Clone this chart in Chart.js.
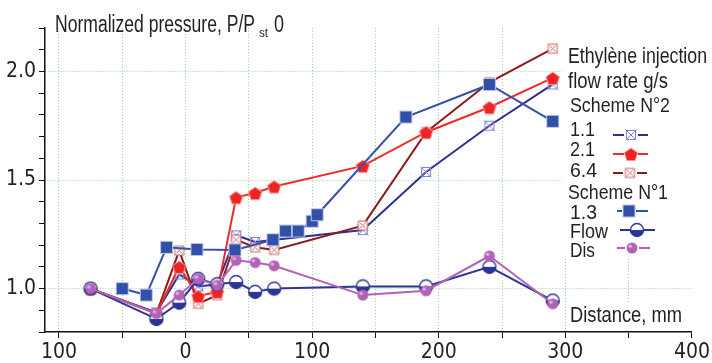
<!DOCTYPE html>
<html>
<head>
<meta charset="utf-8">
<script src="https://cdn.jsdelivr.net/npm/chart.js@4.4.0/dist/chart.umd.min.js"></script>
<style>
body { margin: 0; background: #fff; }
canvas { display: block; }
</style>
</head>
<body>
<canvas id="pressureChart" width="712" height="363"></canvas>
<script>
// distance along the duct, mm
var xScheme2 = [-75, -23, -5, 10, 25, 40, 55, 70, 140, 190, 240, 290];
var xScheme1 = [-50, -31, -15, 9, 39, 69, 79, 89, 100, 104, 174, 240, 290];
var xFlowDis = [-75, -23, -5, 10, 25, 40, 55, 70, 140, 190, 240, 290];

// normalized pressure P/Pst0
var p11 = [1.00, 0.89, 1.065, 1.01, 1.02, 1.245, 1.215, null, 1.27, 1.537, 1.75, 1.94];
var p21 = [1.00, 0.885, 1.10, 0.965, 0.985, 1.42, 1.44, 1.47, 1.565, 1.72, 1.835, 1.97];
var p64 = [1.00, 0.885, 1.175, 0.93, 0.97, 1.225, 1.19, 1.178, 1.29, 1.72, 1.95, 2.105];
var p13 = [1.00, 0.97, 1.19, 1.18, 1.178, 1.225, 1.265, 1.265, 1.31, 1.34, 1.79, 1.94, 1.77];
var pFlow = [1.00, 0.86, 0.935, 1.045, 1.02, 1.03, 0.985, 1.00, 1.01, 1.01, 1.10, 0.945];
var pDis = [1.00, 0.885, 0.97, 1.045, 1.015, 1.13, 1.12, 1.105, 0.97, 0.99, 1.15, 0.93];

var xTicks = [-100, 0, 100, 200, 300, 400];
var yTicks = [1.0, 1.5, 2.0];

var FONT = '"Liberation Sans", Arial, sans-serif';
var TICKFONT = '"DejaVu Sans Condensed", "Liberation Sans", sans-serif';
var TXT = '#231f20';
var GRID = 'rgba(110,200,110,0.75)';

function pts(xs, ys) {
	var out = [];
	for (var i = 0; i < xs.length; i++) {
		if (ys[i] !== null) out.push({x: xs[i], y: ys[i]});
	}
	return out;
}

// marker images
function marker(size, draw) {
	var c = document.createElement('canvas');
	c.width = size; c.height = size;
	draw(c.getContext('2d'), size / 2);
	return c;
}
var mk11 = marker(14, function (g, m) {
	g.strokeStyle = '#8084d8'; g.lineWidth = 1;
	g.strokeRect(m - 4.5, m - 4.5, 9, 9);
	g.beginPath();
	g.moveTo(m - 5.5, m - 5.5); g.lineTo(m + 5.5, m + 5.5);
	g.moveTo(m + 5.5, m - 5.5); g.lineTo(m - 5.5, m + 5.5);
	g.stroke();
});
var mk21 = marker(18, function (g, m) {
	g.beginPath();
	for (var k = 0; k < 5; k++) {
		var a = -Math.PI / 2 + k * 2 * Math.PI / 5;
		var px = m + 7 * Math.cos(a), py = m + 1 + 7 * Math.sin(a);
		if (k === 0) g.moveTo(px, py); else g.lineTo(px, py);
	}
	g.closePath();
	g.fillStyle = '#ee2424'; g.fill();
	g.strokeStyle = '#f7a0a0'; g.lineWidth = 1; g.stroke();
});
var mk64 = marker(13, function (g, m) {
	g.fillStyle = '#fff';
	g.fillRect(m - 4.5, m - 4.5, 9, 9);
	g.strokeStyle = '#c46666'; g.lineWidth = 1;
	g.strokeRect(m - 4.5, m - 4.5, 9, 9);
	g.beginPath();
	g.moveTo(m - 3, m - 3); g.lineTo(m + 3, m + 3);
	g.moveTo(m + 3, m - 3); g.lineTo(m - 3, m + 3);
	g.stroke();
});
var mk13 = marker(15, function (g, m) {
	g.fillStyle = '#b9c3e8';
	g.fillRect(m - 6.5, m - 6.5, 13, 13);
	g.fillStyle = '#3350a8';
	g.fillRect(m - 5.5, m - 5.5, 11, 11);
});
var mkFlow = marker(16, function (g, m) {
	g.beginPath(); g.arc(m, m, 6.5, 0, Math.PI * 2);
	g.fillStyle = '#fff'; g.fill();
	g.beginPath(); g.arc(m, m, 6.5, 0, Math.PI);
	g.closePath(); g.fillStyle = '#2c3593'; g.fill();
	g.beginPath(); g.arc(m, m, 6.5, 0, Math.PI * 2);
	g.strokeStyle = '#2c3593'; g.lineWidth = 1.4; g.stroke();
});
var mkDis = marker(14, function (g, m) {
	g.beginPath(); g.arc(m, m, 5.5, 0, Math.PI * 2);
	g.fillStyle = '#b263b8'; g.fill();
	g.beginPath(); g.arc(m - 1.8, m - 1.8, 1.8, 0, Math.PI * 2);
	g.fillStyle = 'rgba(235,190,235,0.8)'; g.fill();
});

function series(label, data, color, img, order) {
	return {
		label: label,
		data: data,
		borderColor: color,
		backgroundColor: color,
		borderWidth: 2,
		pointStyle: img,
		pointRadius: 6,
		tension: 0,
		order: order
	};
}

function fitText(ctx, str, x, y, size, width) {
	ctx.font = size + 'px ' + FONT;
	ctx.textAlign = 'left';
	ctx.textBaseline = 'alphabetic';
	var w = ctx.measureText(str).width;
	ctx.save();
	ctx.translate(x, y);
	ctx.scale(width / w, 1);
	ctx.fillText(str, 0, 0);
	ctx.restore();
}

var annotations = {
	id: 'annotations',
	afterDraw: function (chart) {
		var ctx = chart.ctx;
		ctx.save();
		ctx.fillStyle = '#fff';
		ctx.fillRect(562, 28, 150, 229);
		ctx.fillRect(569, 302, 121, 28);
		ctx.fillStyle = TXT;
		// axis titles
		fitText(ctx, 'Normalized pressure, P/P', 55, 32, 23, 200);
		fitText(ctx, 'st', 259, 37, 13, 9);
		fitText(ctx, '0', 274, 32, 23, 10);
		fitText(ctx, 'Distance, mm', 570, 322, 22, 112);
		// legend
		fitText(ctx, 'Ethylène injection', 568, 63, 22, 139);
		fitText(ctx, 'flow rate g/s', 568, 88, 22, 100);
		fitText(ctx, 'Scheme N°2', 570, 112, 21, 100);
		fitText(ctx, 'Scheme N°1', 568, 199, 21, 100);
		var rows = [
			['1.1', 136, 25, '#2e2f8f', mk11, 613, 648, 631, 135],
			['2.1', 156, 25, '#f02a2a', mk21, 613, 648, 631, 154],
			['6.4', 177, 27, '#8e1b1b', mk64, 613, 647, 630, 173],
			['1.3', 219, 27, '#3551a8', mk13, 617, 648, 629, 211],
			['Flow', 238, 38, '#2c3593', mkFlow, 620, 655, 637, 230],
			['Dis', 257, 25, '#b263b8', mkDis, 617, 650, 632, 248]
		];
		rows.forEach(function (r) {
			ctx.fillStyle = TXT;
			fitText(ctx, r[0], 570, r[1], 21, r[2]);
			ctx.strokeStyle = r[3];
			ctx.lineWidth = 2;
			ctx.beginPath();
			ctx.moveTo(r[5], r[8]); ctx.lineTo(r[7] - 7, r[8]);
			ctx.moveTo(r[7] + 7, r[8]); ctx.lineTo(r[6], r[8]);
			ctx.stroke();
			ctx.drawImage(r[4], r[7] - r[4].width / 2, r[8] - r[4].height / 2);
		});
		ctx.restore();
	}
};

function isMajor(v, step) {
	var q = v / step;
	return Math.abs(q - Math.round(q)) < 1e-6;
}

var chart = new Chart(document.getElementById('pressureChart'), {
	type: 'line',
	data: {
		datasets: [
			series('1.1', pts(xScheme2, p11), '#2e2f8f', mk11, 5),
			series('2.1', pts(xScheme2, p21), '#f02a2a', mk21, 3),
			series('6.4', pts(xScheme2, p64), '#8e1b1b', mk64, 4),
			series('1.3', pts(xScheme1, p13), '#3551a8', mk13, 2),
			series('Flow', pts(xFlowDis, pFlow), '#2c3593', mkFlow, 1),
			series('Dis', pts(xFlowDis, pDis), '#b263b8', mkDis, 0)
		]
	},
	options: {
		responsive: false,
		animation: false,
		layout: { padding: { top: 28, right: 18, left: 0, bottom: 0 } },
		plugins: { legend: { display: false }, tooltip: { enabled: false } },
		scales: {
			x: {
				type: 'linear',
				min: -111,
				max: 400,
				afterFit: function (s) { s.height = 31; },
				ticks: {
					stepSize: 50,
					includeBounds: false,
					autoSkip: false,
					maxRotation: 0,
					padding: 2,
					color: TXT,
					font: { family: TICKFONT, size: 21 },
					callback: function (v) {
						return xTicks.indexOf(v) >= 0 ? String(Math.abs(v)) : '';
					}
				},
				grid: {
					color: function (c) {
						return c.tick && c.tick.value < 400 ? GRID : 'rgba(0,0,0,0)';
					},
					lineWidth: 1,
					tickColor: '#111',
					tickLength: 6
				},
				border: { display: true, color: '#111', width: 1.5, dash: [1, 2] }
			},
			y: {
				min: 0.8,
				max: 2.2,
				afterFit: function (s) { s.width = 45; },
				ticks: {
					stepSize: 0.1,
					includeBounds: false,
					autoSkip: false,
					padding: 3,
					color: TXT,
					font: { family: TICKFONT, size: 21 },
					callback: function (v) {
						for (var i = 0; i < yTicks.length; i++) {
							if (Math.abs(v - yTicks[i]) < 1e-6) return yTicks[i].toFixed(1);
						}
						return '';
					}
				},
				grid: {
					color: function (c) {
						return c.tick && isMajor(c.tick.value, 0.5) ? GRID : 'rgba(0,0,0,0)';
					},
					lineWidth: 1,
					tickColor: '#111',
					tickLength: 6
				},
				border: { display: true, color: '#111', width: 1.5, dash: [1, 2] }
			}
		}
	},
	plugins: [annotations]
});
</script>
</body>
</html>
